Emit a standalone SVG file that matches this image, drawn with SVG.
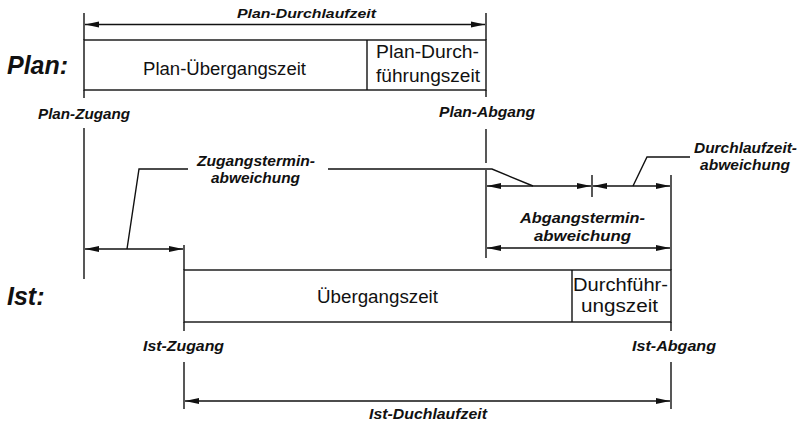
<svg xmlns="http://www.w3.org/2000/svg" width="804" height="425" viewBox="0 0 804 425">
<style>
.ln{stroke:#111;stroke-width:1.4;fill:none}
.ar{stroke:#111;stroke-width:1.4;fill:none;marker-start:url(#ah);marker-end:url(#ah)}
.box{fill:#fff;stroke:#111;stroke-width:1.4}
text{font-family:"Liberation Sans",Arial,sans-serif;fill:#111}
.lb{font-weight:bold;font-style:italic;font-size:14px}
.big{font-weight:bold;font-style:italic;font-size:25px}
.bt{font-size:17.5px}
</style>
<defs>
<marker id="ah" markerUnits="userSpaceOnUse" markerWidth="15" markerHeight="7" refX="14" refY="3.5" orient="auto-start-reverse">
<path d="M0,0.5 L14,3.5 L0,6.5 z" fill="#111"/>
</marker>
</defs>
<g id="labels">
<text class="big" x="7" y="74">Plan:</text>
<text class="big" x="7" y="305">Ist:</text>
</g>
<g id="plan-box">
<rect class="box" x="84" y="40" width="402" height="50"/>
<line class="ln" x1="367" y1="40" x2="367" y2="90"/>
<text class="bt" x="143" y="75" textLength="163" lengthAdjust="spacingAndGlyphs">Plan-Übergangszeit</text>
<text class="bt" x="376" y="58" textLength="103" lengthAdjust="spacingAndGlyphs">Plan-Durch-</text>
<text class="bt" x="376" y="82" textLength="104" lengthAdjust="spacingAndGlyphs">führungszeit</text>
</g>
<g id="ist-box">
<rect class="box" x="184" y="270" width="487" height="52"/>
<line class="ln" x1="572" y1="270" x2="572" y2="322"/>
<text class="bt" x="317" y="303" textLength="121" lengthAdjust="spacingAndGlyphs">Übergangszeit</text>
<text class="bt" x="573" y="291" textLength="95" lengthAdjust="spacingAndGlyphs">Durchführ-</text>
<text class="bt" x="581" y="312" textLength="77" lengthAdjust="spacingAndGlyphs">ungszeit</text>
</g>
<g id="plan-durchlaufzeit">
<text class="lb" x="237" y="18" style="font-size:13px" textLength="139" lengthAdjust="spacingAndGlyphs">Plan-Durchlaufzeit</text>
</g>
<g id="plan-zugang"><text class="lb" x="38" y="119" textLength="92" lengthAdjust="spacingAndGlyphs">Plan-Zugang</text></g>
<g id="plan-abgang"><text class="lb" x="439" y="117" textLength="96" lengthAdjust="spacingAndGlyphs">Plan-Abgang</text></g>
<g id="zugangstermin">
<text class="lb" x="197" y="166" textLength="118" lengthAdjust="spacingAndGlyphs">Zugangstermin-</text>
<text class="lb" x="211" y="183" textLength="89" lengthAdjust="spacingAndGlyphs">abweichung</text>
</g>
<g id="durchlaufzeitabweichung">
<text class="lb" x="694" y="153" textLength="103" lengthAdjust="spacingAndGlyphs">Durchlaufzeit-</text>
<text class="lb" x="700" y="170" textLength="90" lengthAdjust="spacingAndGlyphs">abweichung</text>
</g>
<g id="abgangstermin">
<text class="lb" x="520" y="223" textLength="125" lengthAdjust="spacingAndGlyphs">Abgangstermin-</text>
<text class="lb" x="534" y="241" textLength="97" lengthAdjust="spacingAndGlyphs">abweichung</text>
</g>
<g id="ist-zugang"><text class="lb" x="143" y="351" textLength="81" lengthAdjust="spacingAndGlyphs">Ist-Zugang</text></g>
<g id="ist-abgang"><text class="lb" x="632" y="351" textLength="84" lengthAdjust="spacingAndGlyphs">Ist-Abgang</text></g>
<g id="ist-durchlaufzeit"><text class="lb" x="369" y="419" textLength="118" lengthAdjust="spacingAndGlyphs">Ist-Duchlaufzeit</text></g>
<g id="connectors">
<line class="ln" x1="84" y1="13" x2="84" y2="40"/>
<line class="ln" x1="486" y1="13" x2="486" y2="40"/>
<line class="ar" x1="85" y1="24.5" x2="485" y2="24.5"/>
<line class="ln" x1="84" y1="90" x2="84" y2="98"/>
<line class="ln" x1="486" y1="90" x2="486" y2="97"/>
<line class="ln" x1="84" y1="128" x2="84" y2="279"/>
<line class="ln" x1="486" y1="129" x2="486" y2="163"/>
<line class="ar" x1="85" y1="249" x2="183" y2="249"/>
<line class="ln" x1="184" y1="245" x2="184" y2="270"/>
<polyline class="ln" points="127,249 139,169 188,169"/>
<polyline class="ln" points="328,169 492,169 533,186"/>
<line class="ln" x1="486" y1="170" x2="486" y2="258"/>
<line class="ar" x1="487" y1="186" x2="591" y2="186"/>
<line class="ln" x1="592" y1="175" x2="592" y2="197"/>
<line class="ar" x1="593" y1="186" x2="670" y2="186"/>
<polyline class="ln" points="633,186 647,157 690,157"/>
<line class="ln" x1="671" y1="175" x2="671" y2="270"/>
<line class="ar" x1="487" y1="248" x2="670" y2="248"/>
<line class="ln" x1="184" y1="322" x2="184" y2="331"/>
<line class="ln" x1="671" y1="322" x2="671" y2="331"/>
<line class="ln" x1="184" y1="362" x2="184" y2="409"/>
<line class="ln" x1="671" y1="362" x2="671" y2="409"/>
<line class="ar" x1="185" y1="401" x2="670" y2="401"/>
</g>
</svg>
